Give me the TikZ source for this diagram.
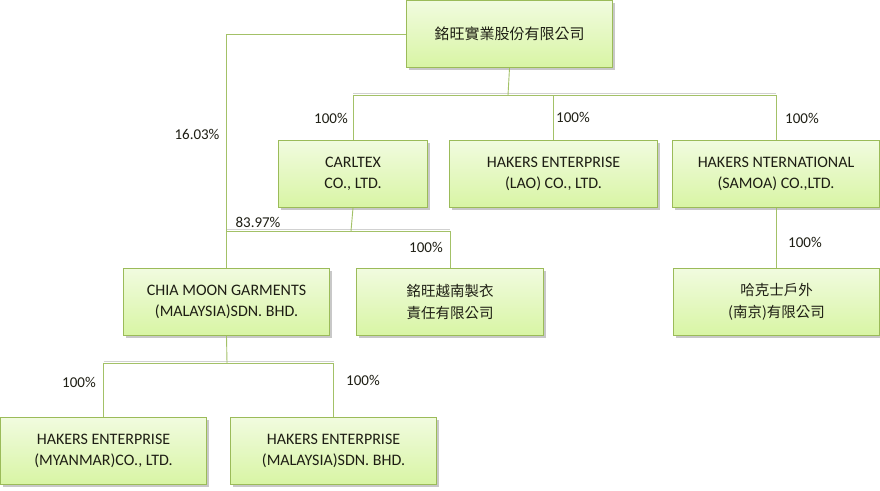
\documentclass[tikz,border=0pt]{standalone}
\usepackage{fontspec}
\setmainfont{Carlito}
\newfontfamily\cjk{Noto Sans CJK TC}
\usetikzlibrary{shadows}
\definecolor{bordergreen}{HTML}{9BBB59}
\definecolor{topgreen}{HTML}{F1FBDF}
\definecolor{botgreen}{HTML}{D8F5A4}
\definecolor{linegreen}{HTML}{A3C167}
\definecolor{txt}{HTML}{1E1E14}
\tikzset{
  box/.style={draw=bordergreen, line width=1pt, top color=topgreen, bottom color=botgreen,
    anchor=north west, minimum height=67pt, align=center, text=txt,
    font=\fontsize{16}{21}\selectfont, inner sep=0pt,
    drop shadow={shadow xshift=2pt, shadow yshift=-2.5pt, fill=black!30, opacity=0.7}},
  cjkbox/.style={box, font=\cjk\fontsize{14.5}{22}\selectfont},
  conn/.style={draw=linegreen, line width=0.9pt},
  connsh/.style={draw=black!18, line width=0.8pt},
  pct/.style={font=\fontsize{15}{17}\selectfont, text=txt, inner sep=0pt}
}
\begin{document}
\begin{tikzpicture}[x=1pt,y=-1pt]
\useasboundingbox (0,0) rectangle (880,490);
\fill[white] (0,0) rectangle (880,490);
\coordinate (b1) at (508,95);
\coordinate (b2) at (351,231);
\coordinate (b3) at (227,363);
\node[cjkbox, minimum width=206pt, font=\cjk\fontsize{15}{22}\selectfont] (top) at (406,0) {銘旺實業股份有限公司};
\node[box, minimum width=149pt] (carltex) at (278,140) {CARLTEX\\CO., LTD.};
\node[box, minimum width=208pt] (lao) at (449,140) {HAKERS ENTERPRISE\\(LAO) CO., LTD.};
\node[box, minimum width=207pt] (samoa) at (672,140) {HAKERS NTERNATIONAL\\(SAMOA) CO.,LTD.};
\node[box, minimum width=206pt] (chia) at (123,268) {CHIA MOON GARMENTS\\(MALAYSIA)SDN. BHD.};
\node[cjkbox, minimum width=187pt] (viet) at (356,268) {銘旺越南製衣\\責任有限公司};
\node[cjkbox, minimum width=206pt] (nanjing) at (673,268) {哈克士戶外\\(南京)有限公司};
\node[box, minimum width=206pt] (myanmar) at (0,417) {HAKERS ENTERPRISE\\(MYANMAR)CO., LTD.};
\node[box, minimum width=206pt] (malaysia) at (230,417) {HAKERS ENTERPRISE\\(MALAYSIA)SDN. BHD.};
% shadows of lines
\draw[connsh] ([yshift=1.3pt]carltex.north |- b1) -- ([yshift=1.3pt]samoa.north |- b1);
\draw[connsh] ([yshift=1.3pt]chia.north |- b2) -- ([yshift=1.3pt]viet.north |- b2);
\draw[connsh] ([yshift=1.3pt]myanmar.north |- b3) -- ([yshift=1.3pt]malaysia.north |- b3);
% main connectors
\draw[conn] (top.south) -- (b1);
\draw[conn] (carltex.north) -- (carltex.north |- b1) -- (samoa.north |- b1) -- (samoa.north);
\draw[conn] (lao.north) -- (lao.north |- b1);
\draw[conn] (top.west) -| (chia.north);
\draw[conn] (carltex.south) -- (b2);
\draw[conn] (chia.north |- b2) -- (viet.north |- b2) -- (viet.north);
\draw[conn] (samoa.south) -- (nanjing.north -| samoa.south);
\draw[conn] (chia.south) -- (b3);
\draw[conn] (myanmar.north) -- (myanmar.north |- b3) -- (malaysia.north |- b3) -- (malaysia.north);
% labels
\node[pct] (p1) at (197,134) {16.03\%};
\node[pct] (p2) at (331,118) {100\%};
\node[pct] (p3) at (573,117) {100\%};
\node[pct] (p4) at (802,118) {100\%};
\node[pct] (p5) at (258,222) {83.97\%};
\node[pct] (p6) at (426,247) {100\%};
\node[pct] (p7) at (805,242) {100\%};
\node[pct] (p8) at (79,382) {100\%};
\node[pct] (p9) at (363,380) {100\%};
\end{tikzpicture}
\end{document}
